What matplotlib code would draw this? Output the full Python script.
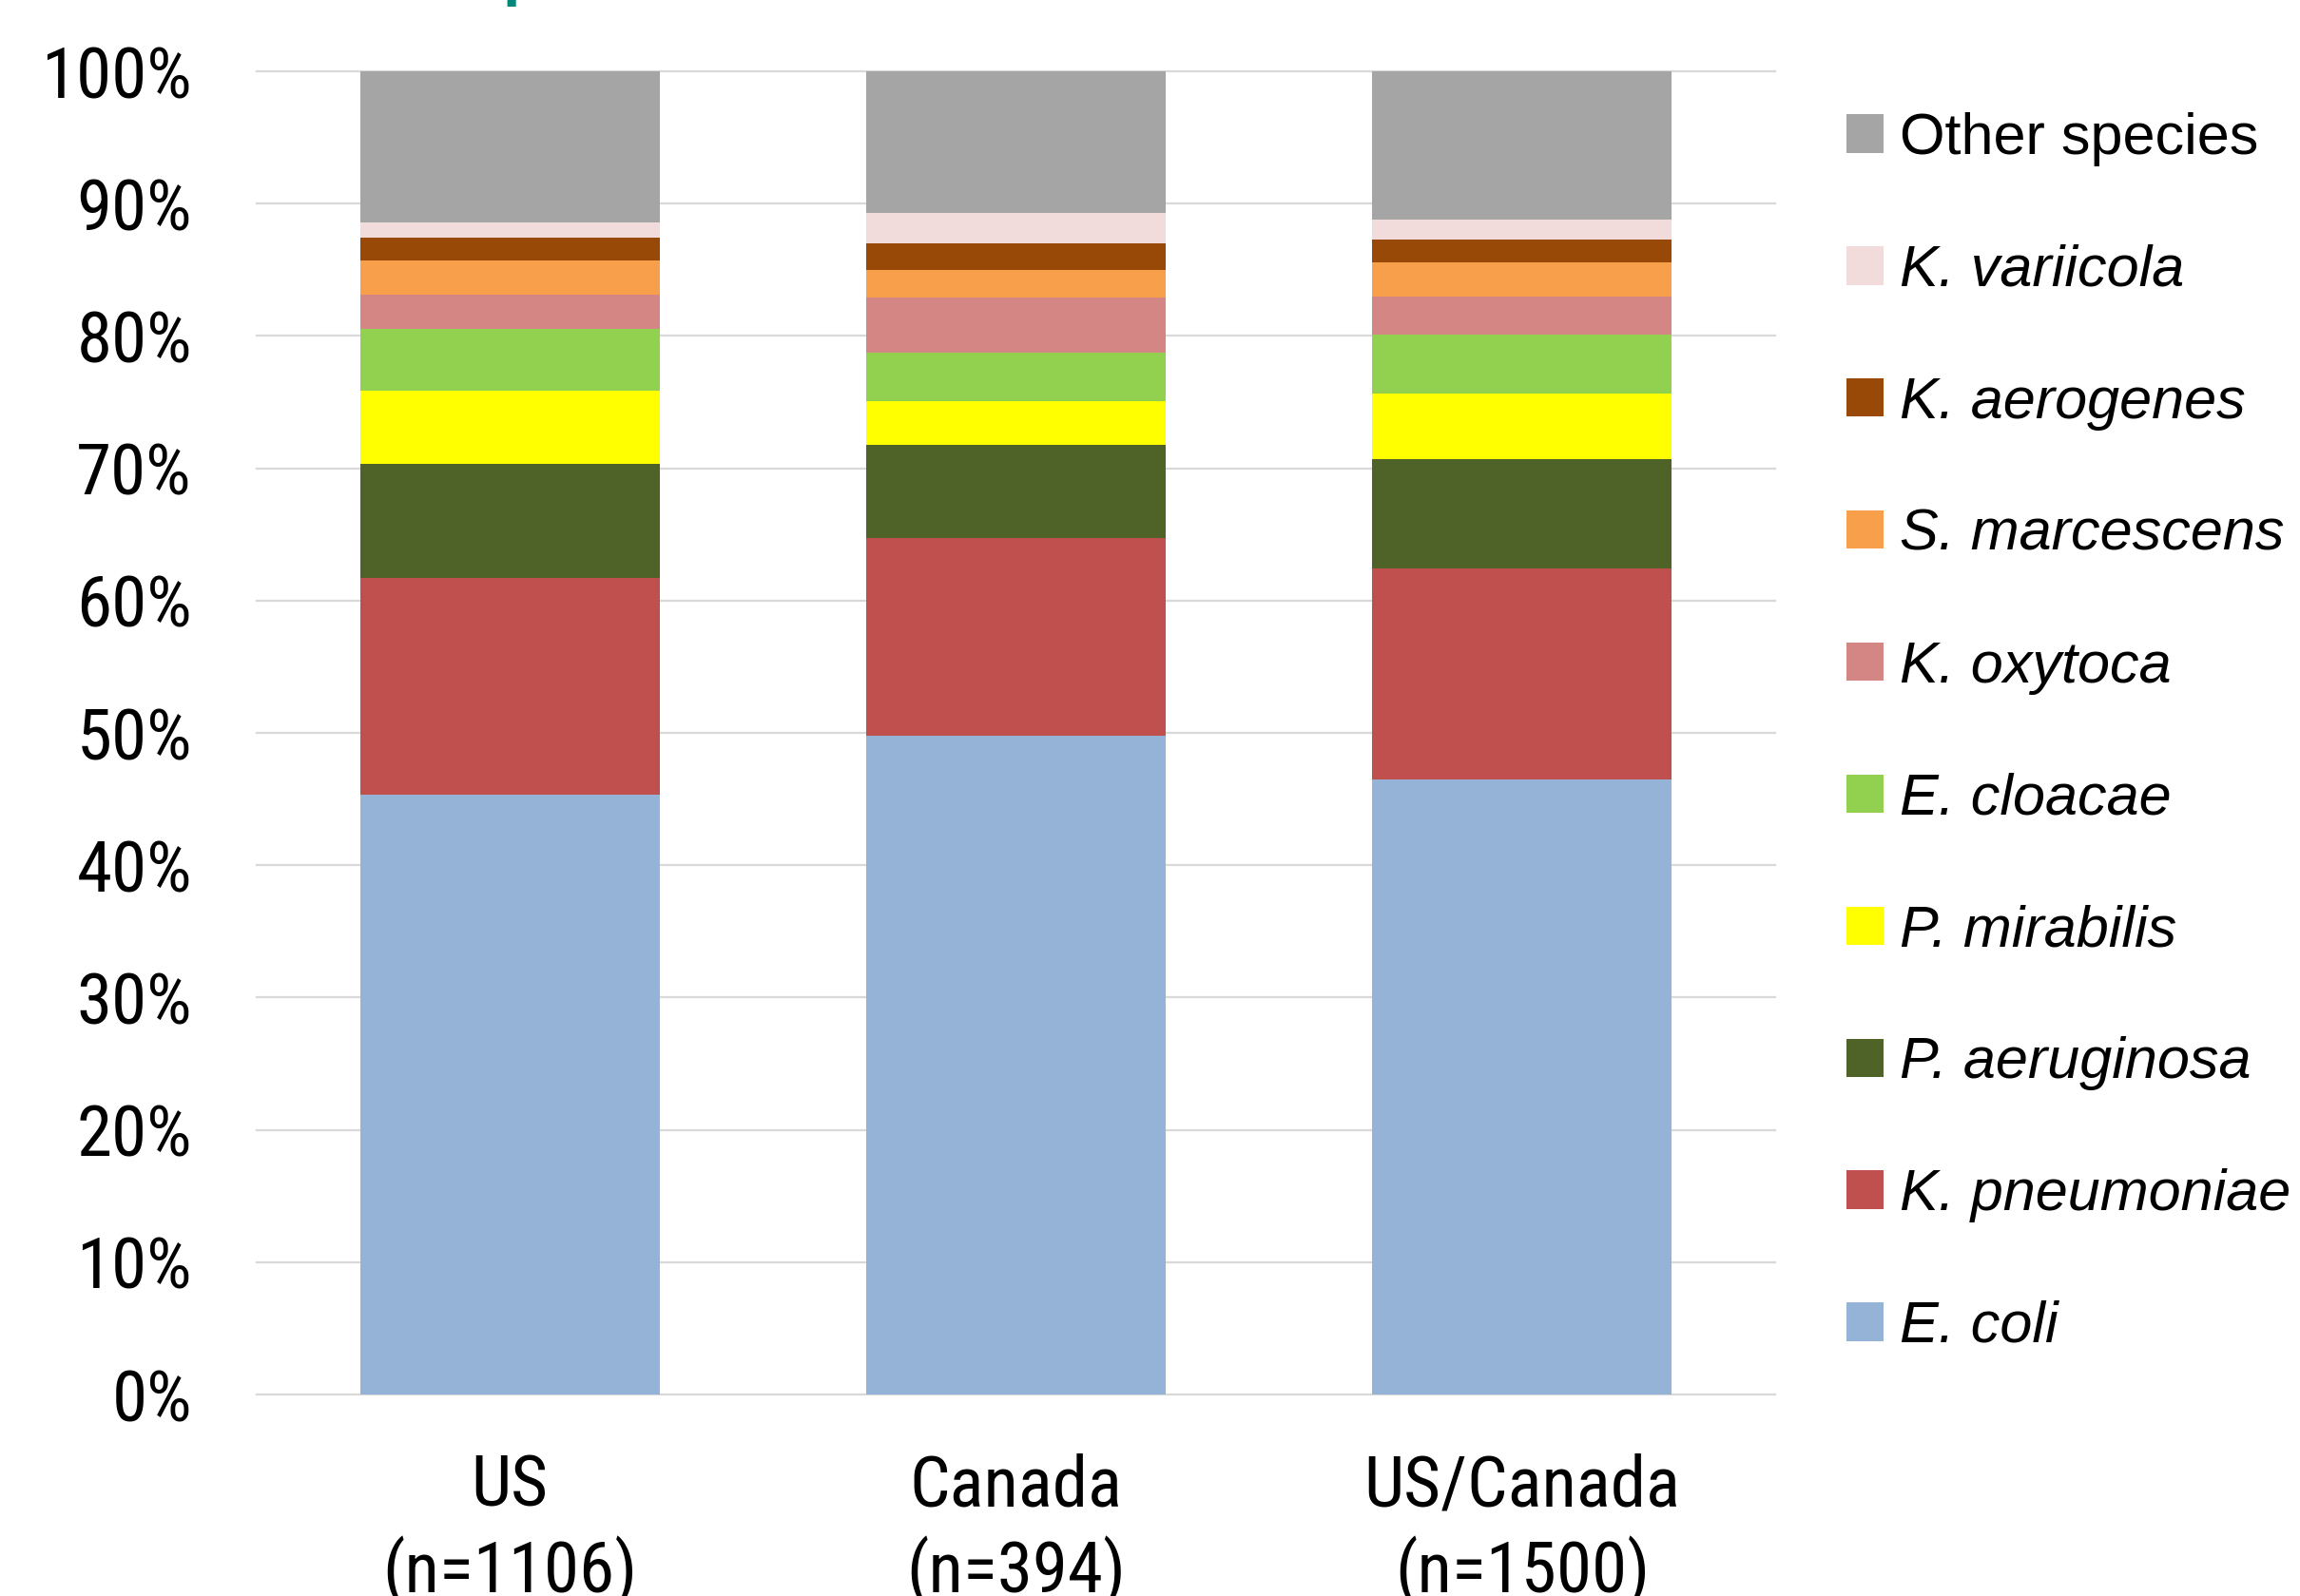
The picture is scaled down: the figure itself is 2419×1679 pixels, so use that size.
import matplotlib
matplotlib.use("Agg")
import matplotlib.pyplot as plt
from matplotlib.patches import Patch
from matplotlib import font_manager
from matplotlib.font_manager import FontProperties

categories = ["US\n(n=1106)", "Canada\n(n=394)", "US/Canada\n(n=1500)"]
species = ["E. coli", "K. pneumoniae", "P. aeruginosa", "P. mirabilis", "E. cloacae",
           "K. oxytoca", "S. marcescens", "K. aerogenes", "K. variicola", "Other species"]
e_coli        = [45.3, 49.75, 46.5]
k_pneumoniae  = [16.4, 15.0, 15.95]
p_aeruginosa  = [8.6, 7.05, 8.25]
p_mirabilis   = [5.55, 3.3, 4.95]
e_cloacae     = [4.7, 3.6, 4.45]
k_oxytoca     = [2.55, 4.2, 2.9]
s_marcescens  = [2.6, 2.1, 2.55]
k_aerogenes   = [1.7, 2.0, 1.75]
k_variicola   = [1.2, 2.3, 1.5]
other_species = [11.4, 10.7, 11.2]
series = [e_coli, k_pneumoniae, p_aeruginosa, p_mirabilis, e_cloacae,
          k_oxytoca, s_marcescens, k_aerogenes, k_variicola, other_species]
colors = ["#95B3D7", "#C0504D", "#4F6228", "#FFFF00", "#92D050",
          "#D38684", "#F79F4A", "#984807", "#F2DCDB", "#A5A5A5"]
yticks = list(range(0, 101, 10))


def pick_condensed():
    fl = font_manager.fontManager.ttflist
    regular = lambda f: f.style == "normal" and f.weight in (400, "normal", "regular")
    for want in ["Liberation Sans Narrow", "Roboto Condensed", "Open Sans Condensed",
                 "Noto Sans Condensed", "DejaVu Sans Condensed"]:
        for f in fl:
            if f.name == want and regular(f):
                return f.fname, True
    for f in fl:
        if regular(f) and ("Condensed" in f.fname or "Narrow" in f.fname) \
                and "Bold" not in f.fname and "Italic" not in f.fname and "Oblique" not in f.fname:
            return f.fname, True
    return None, False


fname, found = pick_condensed()
if found:
    tick_fp = FontProperties(fname=fname, size=54)
else:
    tick_fp = FontProperties(family="Liberation Sans", size=48)

W, H = 2419, 1679
fig = plt.figure(figsize=(W / 100, H / 100), dpi=100)
left, right, top, bottom = 270, 1867, 75, 1467
ax = fig.add_axes([left / W, 1 - bottom / H, (right - left) / W, (bottom - top) / H])

x = list(range(len(categories)))
base = [0.0] * len(categories)
for vals, col in zip(series, colors):
    ax.bar(x, vals, bottom=base, width=0.592, color=col, zorder=2)
    base = [b + v for b, v in zip(base, vals)]

ax.set_xlim(-0.5, 2.5)
ax.set_ylim(0, 100)
ax.set_yticks(yticks)
ax.set_yticklabels([f"{v}%" for v in yticks], fontproperties=tick_fp)
ax.set_xticks(x)
ax.set_xticklabels(categories, fontproperties=tick_fp, linespacing=1.28)
ax.tick_params(axis="both", length=0)
ax.tick_params(axis="y", pad=49)
ax.tick_params(axis="x", pad=44)
ax.yaxis.grid(True, color="#D9D9D9", linewidth=1.6, zorder=0)
ax.set_axisbelow(True)
for gl in ax.get_ygridlines():
    gl.set_clip_on(False)
for s in ax.spines.values():
    s.set_visible(False)

handles = [Patch(facecolor=c, edgecolor="none") for c in colors][::-1]
labels = species[::-1]
leg = fig.legend(handles, labels, loc="upper left", bbox_to_anchor=(1942 / W, 1 - 118 / H),
                 frameon=False, handlelength=0.64, handleheight=0.64,
                 handletextpad=0.27, labelspacing=1.34, borderaxespad=0, borderpad=0,
                 prop={"family": "Liberation Sans", "size": 44})
for t in leg.get_texts():
    if t.get_text() != "Other species":
        t.set_fontstyle("italic")

fig.text(529 / W, 1 - 7 / H, "p", color="#00897B", fontsize=48, fontweight="bold",
         ha="left", va="bottom", family="Liberation Sans")

fig.savefig("out.png", dpi=100)
